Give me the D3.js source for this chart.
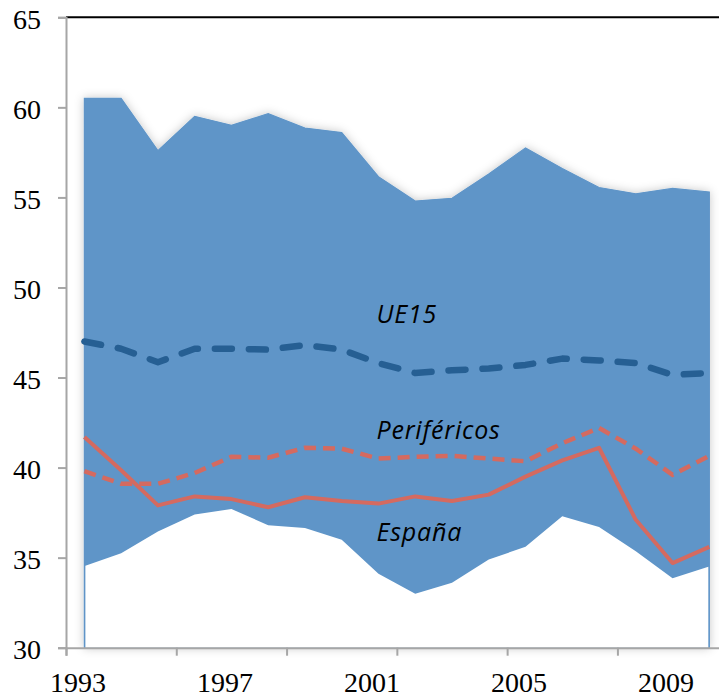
<!DOCTYPE html>
<html>
<head>
<meta charset="utf-8">
<script src="https://cdn.jsdelivr.net/npm/d3@7"></script>
<style>
  html, body { margin: 0; padding: 0; background: #fff; }
  svg { display: block; }
</style>
</head>
<body>
<svg id="chart" width="719" height="697"></svg>
<script>
// data
const years    = [1993,1994,1995,1996,1997,1998,1999,2000,2001,2002,2003,2004,2005,2006,2007,2008,2009,2010];
const maxUE    = [60.5,60.5,57.6,59.5,59.0,59.65,58.85,58.6,56.15,54.8,54.95,56.3,57.75,56.6,55.55,55.2,55.5,55.3];
const minUE    = [34.55,35.25,36.45,37.4,37.7,36.8,36.65,36.0,34.1,33.0,33.6,34.9,35.6,37.3,36.7,35.35,33.85,34.5];
const ue15     = [47.0,46.6,45.85,46.6,46.6,46.55,46.8,46.55,45.8,45.25,45.4,45.5,45.7,46.05,45.95,45.8,45.15,45.25];
const perif    = [39.8,39.1,39.1,39.7,40.6,40.55,41.1,41.05,40.5,40.6,40.65,40.5,40.35,41.35,42.2,41.05,39.6,40.65];
const espana   = [41.7,39.85,37.9,38.4,38.25,37.8,38.35,38.15,38.0,38.4,38.15,38.5,39.5,40.4,41.1,37.1,34.7,35.6];
const yTicks   = [30,35,40,45,50,55,60,65];
const xLabelAt = [0,4,8,12,16];
const xTickAt  = [-0.5,2.5,5.5,8.5,11.5,14.5,17.5];
const labels   = [
  { text: "UE15", i: 8, v: 48.05 },
  { text: "Periféricos", i: 8, v: 41.6 },
  { text: "España", i: 8, v: 35.9 }
];

const svg = d3.select("#chart");
const x = d3.scaleLinear().domain([-0.5, 17.5]).range([66, 727.7]);
const y = d3.scaleLinear().domain([30, 65]).range([647.7, 17.3]);
const idx = years.map((d, i) => i);
const last = idx.length - 1;

// soft shadow round the band
const defs = svg.append("defs");
const f = defs.append("filter").attr("id", "shadow")
  .attr("x", "-10%").attr("y", "-10%").attr("width", "120%").attr("height", "120%");
f.append("feDropShadow").attr("dx", 0).attr("dy", 0)
  .attr("stdDeviation", 5).attr("flood-color", "#000").attr("flood-opacity", 0.22);

// the band: blue from 30 to max, then white from 30 to min on top
svg.append("path")
  .datum(idx)
  .attr("fill", "#5f95c8")
  .attr("stroke", "#5f95c8")
  .attr("stroke-width", 1.2)
  .attr("filter", "url(#shadow)")
  .attr("d", d3.area().x(i => x(i)).y0(y(30)).y1(i => y(maxUE[i])));

svg.append("path")
  .datum(idx)
  .attr("fill", "#fff")
  .attr("d", d3.area()
    .x(i => x(i) + (i === 0 ? 1 : i === last ? -1 : 0))
    .y0(y(30)).y1(i => y(minUE[i])));

// lines
const line = arr => d3.line().x(i => x(i)).y(i => y(arr[i]));

svg.append("path").datum(idx)
  .attr("fill", "none").attr("stroke", "#265f93").attr("stroke-width", 6.5)
  .attr("stroke-linecap", "round").attr("stroke-linejoin", "round")
  .attr("stroke-dasharray", "17,17")
  .attr("d", line(ue15));

svg.append("path").datum(idx)
  .attr("fill", "none").attr("stroke", "#d46a60").attr("stroke-width", 4.5)
  .attr("stroke-dasharray", "12,7")
  .attr("d", line(perif));

svg.append("path").datum(idx)
  .attr("fill", "none").attr("stroke", "#d46a60").attr("stroke-width", 4)
  .attr("stroke-linejoin", "round")
  .attr("d", line(espana));

// series labels
svg.selectAll("text.lab").data(labels).enter().append("text")
  .attr("class", "lab")
  .attr("x", d => x(d.i) - 2)
  .attr("y", d => y(d.v))
  .attr("font-family", "'Open Sans', sans-serif")
  .attr("font-style", "italic")
  .attr("font-size", 25)
  .attr("letter-spacing", "0.8px")
  .attr("fill", "#000")
  .text(d => d.text);

// top border
svg.append("line")
  .attr("x1", x(-0.5)).attr("x2", 719)
  .attr("y1", y(65)).attr("y2", y(65))
  .attr("stroke", "#000").attr("stroke-width", 2);

// y axis
const yAxis = svg.append("g")
  .attr("transform", "translate(" + x(-0.5) + ",0)")
  .call(d3.axisLeft(y).tickValues(yTicks).tickSize(8).tickPadding(17).tickFormat(d3.format("d")));
yAxis.select(".domain").attr("stroke", "#a6a6a6").attr("stroke-width", 2);
yAxis.selectAll(".tick line").attr("stroke", "#a6a6a6").attr("stroke-width", 2);
yAxis.selectAll("text")
  .attr("font-family", "'Liberation Serif', 'Times New Roman', serif")
  .attr("font-size", 28).attr("fill", "#000").attr("dy", "0.4em");

// x axis: tick marks between groups of three years
const xAxis = svg.append("g")
  .attr("transform", "translate(0," + y(30) + ")")
  .call(d3.axisBottom(x).tickValues(xTickAt).tickSize(8).tickFormat(""));
xAxis.select(".domain").attr("stroke", "#a6a6a6").attr("stroke-width", 2);
xAxis.selectAll(".tick line").attr("stroke", "#a6a6a6").attr("stroke-width", 2);

// x labels every four years
const xLab = svg.append("g")
  .attr("transform", "translate(-7," + y(30) + ")")
  .call(d3.axisBottom(x).tickValues(xLabelAt).tickSize(0).tickPadding(24).tickFormat(i => years[i]));
xLab.select(".domain").remove();
xLab.selectAll("text")
  .attr("font-family", "'Liberation Serif', 'Times New Roman', serif")
  .attr("font-size", 28).attr("fill", "#000");
</script>
</body>
</html>
